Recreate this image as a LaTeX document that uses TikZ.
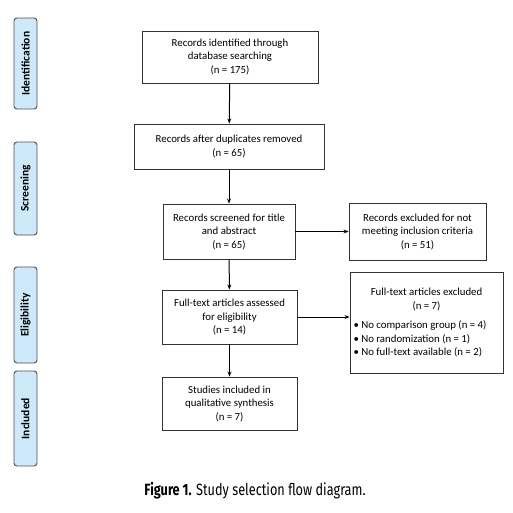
\documentclass[tikz,border=0pt]{standalone}
\usepackage{fontspec}
\setmainfont{Carlito}
\newfontfamily\capfont[FakeStretch=0.78]{Fira Sans}
\usetikzlibrary{arrows.meta,calc}
\definecolor{barblue}{HTML}{CDE9FA}
\definecolor{bargray}{HTML}{505050}
\tikzset{
  box/.style={draw=black!80, line width=0.9pt, align=center, inner sep=2pt,
    font=\fontsize{10.8}{13.5}\selectfont},
  bar/.style={draw=bargray, fill=barblue, line width=0.9pt, rounded corners=3pt,
    minimum width=23pt},
  barlabel/.style={rotate=90, font=\bfseries\fontsize{11.5}{13}\selectfont},
  arr/.style={-{Stealth[length=5pt,width=4pt]}, line width=1pt, black}
}
\begin{document}
\begin{tikzpicture}[x=1pt,y=-1pt]
\useasboundingbox (0,0) rectangle (512,513);
% side bars
\node[bar, minimum height=91pt] (bid) at (25.5,63.5) {};
\node[barlabel] (lid) at (bid.center) {Identification};
\node[bar, minimum height=93pt] (bsc) at (25.5,188.5) {};
\node[barlabel] (lsc) at (bsc.center) {Screening};
\node[bar, minimum height=96pt] (bel) at (25.5,315) {};
\node[barlabel] (lel) at (bel.center) {Eligibility};
\node[bar, minimum height=95pt] (bin) at (25.5,418.5) {};
\node[barlabel] (lin) at (bin.center) {Included};
% main boxes
\node[box, minimum width=176pt, minimum height=52pt] (b1) at (230,57)
  {Records identified through\\database searching\\(n = 175)};
\node[box, minimum width=190pt, minimum height=45pt] (b2) at (229,146.5)
  {Records after duplicates removed\\(n = 65)};
\node[box, minimum width=132pt, minimum height=55pt] (b3) at (229,231.5)
  {Records screened for title\\and abstract\\(n = 65)};
\node[box, minimum width=137pt, minimum height=57pt] (e1) at (417.5,231.5)
  {Records excluded for not\\meeting inclusion criteria\\(n = 51)};
\node[box, minimum width=135pt, minimum height=54pt] (b4) at (229.5,317)
  {Full-text articles assessed\\for eligibility\\(n = 14)};
\node[box, minimum width=135pt, minimum height=53pt] (b5) at (229.5,403.5)
  {Studies included in\\qualitative synthesis\\(n = 7)};
\node[box, minimum width=153pt, minimum height=101pt, align=left] (e2) at (426.5,322.5)
  {\parbox{146pt}{\centering Full-text articles excluded\\(n = 7)\par\vspace{6pt}
   \raggedright
   \textbullet\ No comparison group (n = 4)\\
   \textbullet\ No randomization (n = 1)\\
   \textbullet\ No full-text available (n = 2)}};
% arrows
\draw[arr] (b1) -- (b2);
\draw[arr] (b2) -- (b3);
\draw[arr] (b3) -- (e1);
\draw[arr] (b3) -- (b4);
\draw[arr] (b4) -- (b5);
\draw[arr] (b4.east) -- (b4.east -| e2.west);
% caption
\node[font=\capfont\fontsize{16.3}{18}\selectfont] (cap) at (255,491)
  {\textbf{Figure 1.} Study selection flow diagram.};
\end{tikzpicture}
\end{document}
